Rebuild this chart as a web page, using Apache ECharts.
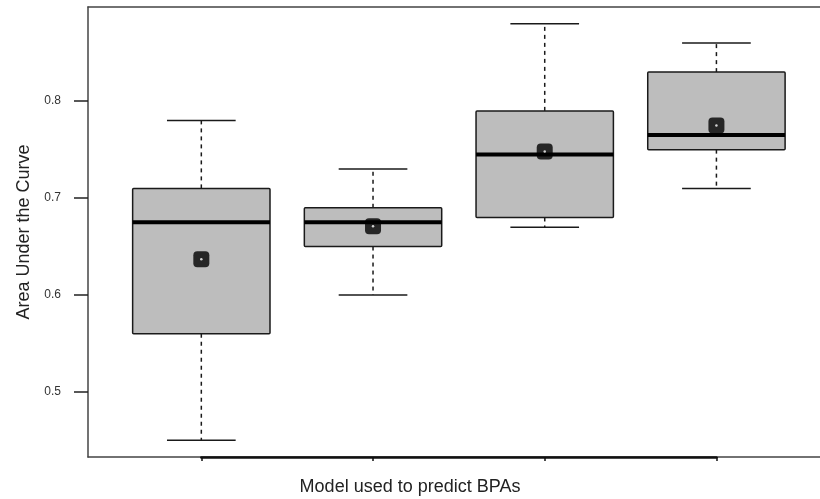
<!DOCTYPE html>
<html>
<head>
<meta charset="utf-8">
<script src="https://cdn.jsdelivr.net/npm/echarts@6/dist/echarts.min.js"></script>
<style>
  html, body { margin: 0; padding: 0; background: #fff; }
  #main { width: 820px; height: 499px; }
</style>
</head>
<body>
<div id="main"></div>
<script>
// model positions on the x axis (no tick labels in the original)
var models = [1, 2, 3, 4];
// box statistics
var lowWhisker = [0.45, 0.60, 0.67, 0.71];
var lowerQ = [0.56, 0.65, 0.68, 0.75];
var medians = [0.675, 0.675, 0.745, 0.765];
var upperQ = [0.71, 0.69, 0.79, 0.83];
var highWhisker = [0.78, 0.73, 0.88, 0.86];
var means = [0.637, 0.671, 0.748, 0.775];
var yTicks = [0.5, 0.6, 0.7, 0.8];

var boxData = models.map(function (m, i) {
  return [m, lowWhisker[i], lowerQ[i], medians[i], upperQ[i], highWhisker[i]];
});
var meanData = models.map(function (m, i) { return [m, means[i]]; });

var ink = '#1a1a1a';
var frame = { color: '#444', width: 1.5 };
var unit = 171.7; // px per model step

function renderBox(params, api) {
  var x = api.value(0);
  var lo = api.coord([x, api.value(1)]);
  var q1 = api.coord([x, api.value(2)]);
  var md = api.coord([x, api.value(3)]);
  var q3 = api.coord([x, api.value(4)]);
  var hi = api.coord([x, api.value(5)]);
  var w = api.size([0.8, 0])[0];
  var cx = lo[0];
  var dash = { stroke: ink, lineWidth: 1.5, lineDash: [4, 4] };
  var solid = { stroke: ink, lineWidth: 1.5 };
  return {
    type: 'group',
    children: [
      { type: 'line', shape: { x1: cx, y1: q3[1], x2: cx, y2: hi[1] }, style: dash },
      { type: 'line', shape: { x1: cx, y1: q1[1], x2: cx, y2: lo[1] }, style: dash },
      { type: 'line', shape: { x1: cx - w / 4, y1: hi[1], x2: cx + w / 4, y2: hi[1] }, style: solid },
      { type: 'line', shape: { x1: cx - w / 4, y1: lo[1], x2: cx + w / 4, y2: lo[1] }, style: solid },
      { type: 'rect', shape: { x: cx - w / 2, y: q3[1], width: w, height: q1[1] - q3[1], r: 1 },
        style: { fill: '#bdbdbd', stroke: ink, lineWidth: 1.5 } },
      { type: 'line', shape: { x1: cx - w / 2, y1: md[1], x2: cx + w / 2, y2: md[1] },
        style: { stroke: '#000', lineWidth: 4 } }
    ]
  };
}

var chart = echarts.init(document.getElementById('main'));
chart.setOption({
  animation: false,
  backgroundColor: '#fff',
  title: {
    text: 'Model used to predict BPAs',
    left: 'center',
    top: 478,
    padding: 0,
    textStyle: { fontFamily: 'Liberation Sans', fontSize: 18, fontWeight: 'normal', color: '#222' }
  },
  grid: [
    { left: 88, top: 7, right: 0, height: 450 },
    { left: 88 + 0.66 * unit, top: 457, width: 3 * unit, height: 0 }
  ],
  xAxis: [
    // bottom frame edge
    { type: 'value', gridIndex: 0, min: 0.34, max: 0.34 + 732 / unit, position: 'bottom',
      axisLine: { show: true, onZero: false, lineStyle: frame },
      axisTick: { show: false }, axisLabel: { show: false }, splitLine: { show: false } },
    // top frame edge
    { type: 'value', gridIndex: 0, min: 0.34, max: 0.34 + 732 / unit, position: 'top',
      axisLine: { show: true, onZero: false, lineStyle: frame },
      axisTick: { show: false }, axisLabel: { show: false }, splitLine: { show: false } },
    // R style axis spanning the first to the last model
    { type: 'value', gridIndex: 1, min: 1, max: 4, interval: 1,
      axisLine: { show: true, lineStyle: { color: '#111', width: 2.5 } },
      axisTick: { show: true, length: 4, lineStyle: { color: '#111', width: 1.5 } },
      axisLabel: { show: false }, splitLine: { show: false } }
  ],
  yAxis: [
    { type: 'value', gridIndex: 0, min: 0.4328, max: 0.8972,
      name: 'Area Under the Curve', nameLocation: 'middle', nameGap: 55,
      nameTextStyle: { fontFamily: 'Liberation Sans', fontSize: 18, color: '#222' },
      axisLine: { show: true, onZero: false, lineStyle: frame },
      axisTick: { show: true, length: 14, customValues: yTicks, lineStyle: { color: '#222', width: 1.5 } },
      axisLabel: { customValues: yTicks, margin: 27, fontFamily: 'Liberation Sans', fontSize: 12, color: '#333' },
      splitLine: { show: false } },
    { type: 'value', gridIndex: 1, show: false }
  ],
  series: [
    { type: 'custom', xAxisIndex: 0, yAxisIndex: 0, data: boxData, renderItem: renderBox, z: 2 },
    { type: 'scatter', xAxisIndex: 0, yAxisIndex: 0, data: meanData, symbol: 'roundRect',
      symbolSize: 16, itemStyle: { color: '#000' }, z: 3 },
    { type: 'scatter', xAxisIndex: 0, yAxisIndex: 0, data: meanData, symbol: 'circle',
      symbolSize: 2.5, itemStyle: { color: '#fff' }, z: 4 }
  ]
});
</script>
</body>
</html>
